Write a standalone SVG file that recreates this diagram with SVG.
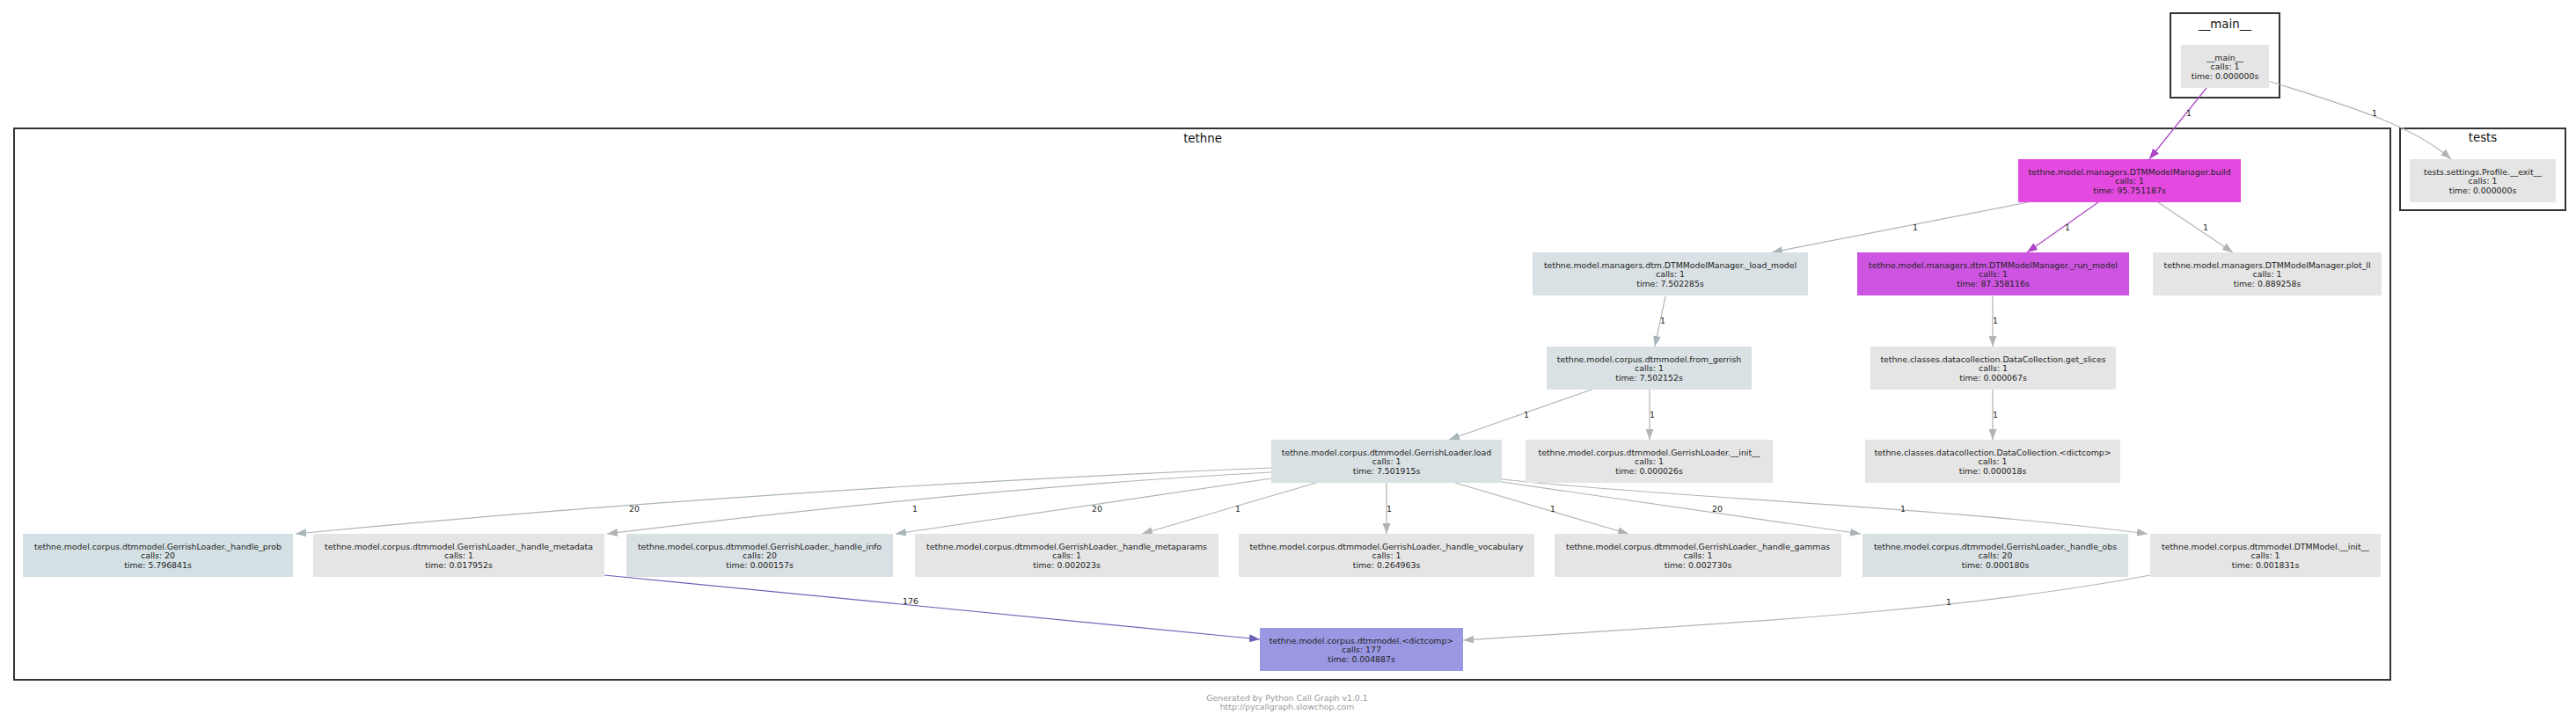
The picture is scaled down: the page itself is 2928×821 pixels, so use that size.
<svg xmlns="http://www.w3.org/2000/svg" width="2928" height="821" viewBox="0 0 2928 821">
<style>
text{font-family:"DejaVu Sans",Verdana,"Liberation Sans",sans-serif;font-size:9.33px;text-anchor:middle;fill:#222}
.cl{fill:none;stroke:#333;stroke-width:2}
.ct{font-size:13.33px;fill:#111}
.g{fill:#e5e5e5}
.b{fill:#d9e1e4}
.bp{fill:#d3e0e4}
.m1{fill:#e44ae0}
.m2{fill:#cd55e1}
.v{fill:#9a97e3}
.e{fill:none;stroke-width:1.2}
.eg{stroke:#b3b3b3;marker-end:url(#ag)}
.eb{stroke:#a9b5b9;marker-end:url(#ab)}
.ep{stroke:#ad44c6;marker-end:url(#ap)}
.ev{stroke:#6b63b8;marker-end:url(#av)}
.ft{fill:#999}
</style>
<defs>
<marker id="ag" markerUnits="userSpaceOnUse" markerWidth="12" markerHeight="9" refX="12" refY="4.5" orient="auto"><path d="M0,0 L12,4.5 L0,9 Z" fill="#b3b3b3"/></marker>
<marker id="ab" markerUnits="userSpaceOnUse" markerWidth="12" markerHeight="9" refX="12" refY="4.5" orient="auto"><path d="M0,0 L12,4.5 L0,9 Z" fill="#a9b5b9"/></marker>
<marker id="ap" markerUnits="userSpaceOnUse" markerWidth="12" markerHeight="9" refX="12" refY="4.5" orient="auto"><path d="M0,0 L12,4.5 L0,9 Z" fill="#ad44c6"/></marker>
<marker id="av" markerUnits="userSpaceOnUse" markerWidth="12" markerHeight="9" refX="12" refY="4.5" orient="auto"><path d="M0,0 L12,4.5 L0,9 Z" fill="#6b63b8"/></marker>
</defs>
<rect width="2928" height="821" fill="#fff"/>

<g id="clusters">
<g id="cluster_main"><rect class="cl" x="2467" y="15" width="124" height="96"/><text class="ct" x="2529" y="32">__main__</text></g>
<g id="cluster_tethne"><rect class="cl" x="16" y="146" width="2701" height="627"/><text class="ct" x="1367" y="162">tethne</text></g>
<g id="cluster_tests"><rect class="cl" x="2728" y="146" width="188" height="93"/><text class="ct" x="2822" y="161">tests</text></g>
</g>

<g id="edges">
<path class="e ep" d="M2508,100 L2443,181"/><text x="2488" y="131.5">1</text>
<path class="e eg" d="M2578,92 C2660,118 2740,140 2786,181"/><text x="2699" y="131.5">1</text>
<path class="e eb" d="M2305,230 L2014,287"/><text x="2177" y="261.5">1</text>
<path class="e ep" d="M2385,230 L2304,287"/><text x="2350" y="261.5">1</text>
<path class="e eg" d="M2453,230 L2538,287"/><text x="2507" y="261.5">1</text>
<path class="e eb" d="M1893,337 L1881,394"/><text x="1890" y="367.5">1</text>
<path class="e eg" d="M2265,337 L2265,394"/><text x="2268" y="367.5">1</text>
<path class="e eb" d="M1809,443 L1647,500"/><text x="1735" y="474.5">1</text>
<path class="e eg" d="M1875,443 L1875,500"/><text x="1878" y="474.5">1</text>
<path class="e eg" d="M2265,443 L2265,500"/><text x="2268" y="474.5">1</text>
<path class="e eb" d="M1445,532 C1100,546 700,572 336,607"/><text x="721" y="581.5">20</text>
<path class="e eg" d="M1445,537 C1200,550 950,575 690,607"/><text x="1040" y="581.5">1</text>
<path class="e eb" d="M1445,544 L1018,607"/><text x="1247" y="581.5">20</text>
<path class="e eg" d="M1496,549 L1298,607"/><text x="1407" y="581.5">1</text>
<path class="e eg" d="M1576,549 L1576,607"/><text x="1579" y="581.5">1</text>
<path class="e eg" d="M1654,549 L1851,607"/><text x="1765" y="581.5">1</text>
<path class="e eb" d="M1707,548 L2115,607"/><text x="1952" y="581.5">20</text>
<path class="e eg" d="M1707,545 C1900,566 2200,576 2441,607"/><text x="2163" y="581.5">1</text>
<path class="e ev" d="M687,654 L1432,727"/><text x="1035" y="686.5">176</text>
<path class="e eg" d="M2444,654 C2200,700 1900,712 1663,728"/><text x="2215" y="687.5">1</text>
</g>

<g id="n_main"><rect class="g" x="2479" y="51" width="100" height="49"/><text x="2529" y="68.5">__main__</text><text x="2529" y="79">calls: 1</text><text x="2529" y="89.5">time: 0.000000s</text></g>
<g id="n_tests_exit"><rect class="g" x="2739" y="181" width="166" height="49"/><text x="2822" y="198.5">tests.settings.Profile.__exit__</text><text x="2822" y="209">calls: 1</text><text x="2822" y="219.5">time: 0.000000s</text></g>
<g id="n_build"><rect class="m1" x="2294" y="181" width="253" height="49"/><text x="2420.5" y="198.5">tethne.model.managers.DTMModelManager.build</text><text x="2420.5" y="209">calls: 1</text><text x="2420.5" y="219.5">time: 95.751187s</text></g>
<g id="n_load_model"><rect class="b" x="1742" y="287" width="313" height="49"/><text x="1898.5" y="304.5">tethne.model.managers.dtm.DTMModelManager._load_model</text><text x="1898.5" y="315">calls: 1</text><text x="1898.5" y="325.5">time: 7.502285s</text></g>
<g id="n_run_model"><rect class="m2" x="2111" y="287" width="309" height="49"/><text x="2265.5" y="304.5">tethne.model.managers.dtm.DTMModelManager._run_model</text><text x="2265.5" y="315">calls: 1</text><text x="2265.5" y="325.5">time: 87.358116s</text></g>
<g id="n_plot_ll"><rect class="g" x="2447" y="287" width="260" height="49"/><text x="2577" y="304.5">tethne.model.managers.DTMModelManager.plot_ll</text><text x="2577" y="315">calls: 1</text><text x="2577" y="325.5">time: 0.889258s</text></g>
<g id="n_from_gerrish"><rect class="b" x="1758" y="394" width="233" height="49"/><text x="1874.5" y="411.5">tethne.model.corpus.dtmmodel.from_gerrish</text><text x="1874.5" y="422">calls: 1</text><text x="1874.5" y="432.5">time: 7.502152s</text></g>
<g id="n_get_slices"><rect class="g" x="2126" y="394" width="279" height="49"/><text x="2265.5" y="411.5">tethne.classes.datacollection.DataCollection.get_slices</text><text x="2265.5" y="422">calls: 1</text><text x="2265.5" y="432.5">time: 0.000067s</text></g>
<g id="n_loader_load"><rect class="b" x="1445" y="500" width="262" height="49"/><text x="1576" y="517.5">tethne.model.corpus.dtmmodel.GerrishLoader.load</text><text x="1576" y="528">calls: 1</text><text x="1576" y="538.5">time: 7.501915s</text></g>
<g id="n_loader_init"><rect class="g" x="1734" y="500" width="281" height="49"/><text x="1874.5" y="517.5">tethne.model.corpus.dtmmodel.GerrishLoader.__init__</text><text x="1874.5" y="528">calls: 1</text><text x="1874.5" y="538.5">time: 0.000026s</text></g>
<g id="n_dc_dictcomp"><rect class="g" x="2120" y="500" width="290" height="49"/><text x="2265" y="517.5">tethne.classes.datacollection.DataCollection.&lt;dictcomp&gt;</text><text x="2265" y="528">calls: 1</text><text x="2265" y="538.5">time: 0.000018s</text></g>
<g id="n_handle_prob"><rect class="bp" x="26" y="607" width="307" height="49"/><text x="179.5" y="624.5">tethne.model.corpus.dtmmodel.GerrishLoader._handle_prob</text><text x="179.5" y="635">calls: 20</text><text x="179.5" y="645.5">time: 5.796841s</text></g>
<g id="n_handle_metadata"><rect class="g" x="356" y="607" width="331" height="49"/><text x="521.5" y="624.5">tethne.model.corpus.dtmmodel.GerrishLoader._handle_metadata</text><text x="521.5" y="635">calls: 1</text><text x="521.5" y="645.5">time: 0.017952s</text></g>
<g id="n_handle_info"><rect class="b" x="712" y="607" width="303" height="49"/><text x="863.5" y="624.5">tethne.model.corpus.dtmmodel.GerrishLoader._handle_info</text><text x="863.5" y="635">calls: 20</text><text x="863.5" y="645.5">time: 0.000157s</text></g>
<g id="n_handle_metaparams"><rect class="g" x="1040" y="607" width="345" height="49"/><text x="1212.5" y="624.5">tethne.model.corpus.dtmmodel.GerrishLoader._handle_metaparams</text><text x="1212.5" y="635">calls: 1</text><text x="1212.5" y="645.5">time: 0.002023s</text></g>
<g id="n_handle_vocabulary"><rect class="g" x="1408" y="607" width="336" height="49"/><text x="1576" y="624.5">tethne.model.corpus.dtmmodel.GerrishLoader._handle_vocabulary</text><text x="1576" y="635">calls: 1</text><text x="1576" y="645.5">time: 0.264963s</text></g>
<g id="n_handle_gammas"><rect class="g" x="1767" y="607" width="326" height="49"/><text x="1930" y="624.5">tethne.model.corpus.dtmmodel.GerrishLoader._handle_gammas</text><text x="1930" y="635">calls: 1</text><text x="1930" y="645.5">time: 0.002730s</text></g>
<g id="n_handle_obs"><rect class="b" x="2117" y="607" width="302" height="49"/><text x="2268" y="624.5">tethne.model.corpus.dtmmodel.GerrishLoader._handle_obs</text><text x="2268" y="635">calls: 20</text><text x="2268" y="645.5">time: 0.000180s</text></g>
<g id="n_dtmmodel_init"><rect class="g" x="2444" y="607" width="262" height="49"/><text x="2575" y="624.5">tethne.model.corpus.dtmmodel.DTMModel.__init__</text><text x="2575" y="635">calls: 1</text><text x="2575" y="645.5">time: 0.001831s</text></g>
<g id="n_corpus_dictcomp"><rect class="v" x="1432" y="714" width="231" height="49"/><text x="1547.5" y="731.5">tethne.model.corpus.dtmmodel.&lt;dictcomp&gt;</text><text x="1547.5" y="742">calls: 177</text><text x="1547.5" y="752.5">time: 0.004887s</text></g>

<g id="footer"><text class="ft" x="1463" y="796.5">Generated by Python Call Graph v1.0.1</text><text class="ft" x="1463" y="807">http://pycallgraph.slowchop.com</text></g>
</svg>
